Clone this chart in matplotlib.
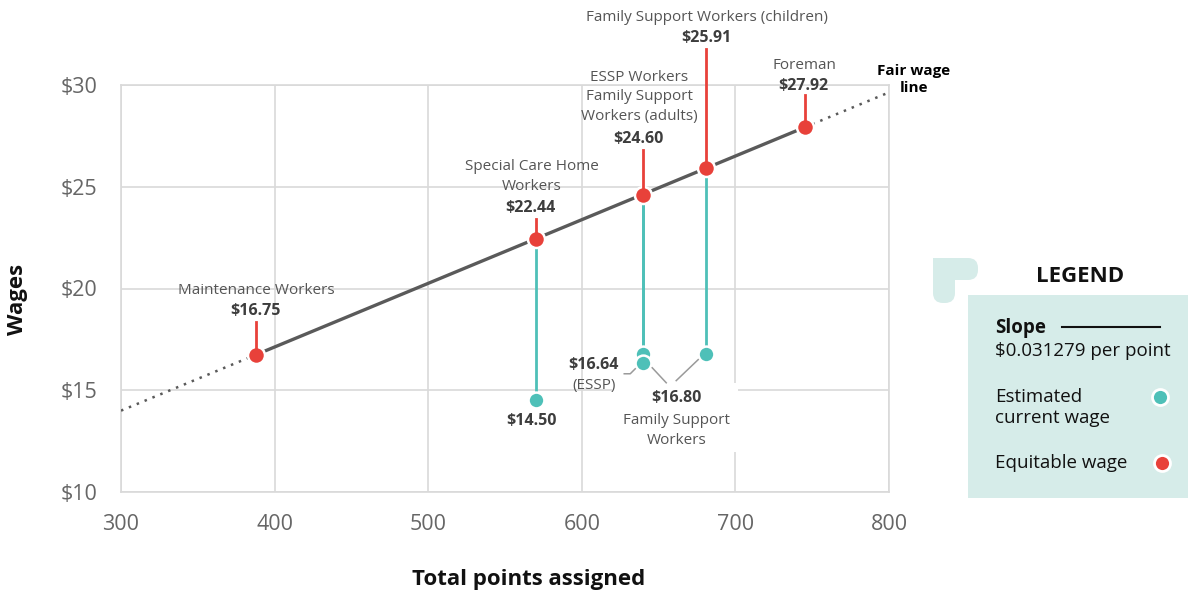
import matplotlib
matplotlib.use('Agg')
import matplotlib.pyplot as plt
from matplotlib.lines import Line2D
from matplotlib.patches import FancyBboxPatch, Rectangle
from matplotlib.transforms import Affine2D

plt.rcParams['font.family'] = ['Open Sans', 'DejaVu Sans']

# --- data ---
eq_points = [388, 570, 640, 681, 745]
eq_wages = [16.75, 22.44, 24.60, 25.91, 27.92]
eq_values = ['$16.75', '$22.44', '$24.60', '$25.91', '$27.92']
eq_names = ['Maintenance Workers', 'Special Care Home\nWorkers',
            'ESSP Workers\nFamily Support\nWorkers (adults)',
            'Family Support Workers (children)', 'Foreman']

cur_points = [570, 640, 640, 681]
cur_wages = [14.50, 16.80, 16.35, 16.80]

slope = 0.031279
x_range = [300, 800]
y_ticks = [10, 15, 20, 25, 30]
x_ticks = [300, 400, 500, 600, 700, 800]

RED = '#e8413a'
TEAL = '#4ec0b8'
LINE = '#5a5a5a'
GRID = '#d9d9d9'
NAME_C = '#555555'
VAL_C = '#3d3d3d'
LEG_BG = '#d6ece9'
FS = 11

W, H = 1188, 598
fig = plt.figure(figsize=(W / 100, H / 100), dpi=100)
ax = fig.add_axes([121 / W, 1 - 492 / H, (889 - 121) / W, (492 - 85) / H])
ax.set_xlim(*x_range)
ax.set_ylim(10, 30)
ax.set_xticks(x_ticks)
ax.set_yticks(y_ticks)
ax.set_yticklabels([f'${v}' for v in y_ticks])
ax.tick_params(length=0, labelsize=15.5, labelcolor='#666666')
ax.tick_params(axis='x', pad=16)
ax.tick_params(axis='y', pad=17)
ax.grid(True, color=GRID, linewidth=1.2)
for s in ax.spines.values():
    s.set_color(GRID)
    s.set_linewidth(1.2)

# fair wage line: solid between the first and last job, dotted outside
intercept = eq_wages[0] - slope * eq_points[0]
def fw(x):
    return intercept + slope * x

x0, x1 = eq_points[0], eq_points[-1]
ax.plot([x0, x1], [fw(x0), fw(x1)], color=LINE, lw=2.4, zorder=3, solid_capstyle='butt')
ax.plot([x_range[0], x0], [fw(x_range[0]), fw(x0)], color=LINE, lw=1.8, ls=(0, (1, 2.4)), zorder=3)
ax.plot([x1, x_range[1]], [fw(x1), fw(x_range[1])], color=LINE, lw=1.8, ls=(0, (1, 2.4)), zorder=3)

# teal drop lines from equitable to current wage
for px, cw in zip(cur_points, cur_wages):
    ew = eq_wages[eq_points.index(px)]
    ax.plot([px, px], [ew, cw], color=TEAL, lw=2, zorder=3)


def px_line(x, y, offs, **kw):
    """polyline given in pixel offsets from a data point"""
    bx, by = ax.transData.transform((x, y))
    tr = Affine2D().translate(bx, by)
    xs = [o[0] for o in offs]
    ys = [o[1] for o in offs]
    fig.add_artist(Line2D(xs, ys, transform=tr, **kw))


# labels above equitable points: (dx, name dy, value dy, tick top dy)
label_layout = [(0, 64, 44, 33), (-4, 62.5, 31, 20), (-4, 98, 56, 45),
                (1, 151, 130, 119), (0, 62, 41, 32)]
for (px, w, val, name), (dx, dn, dv, dt) in zip(
        zip(eq_points, eq_wages, eq_values, eq_names), label_layout):
    ax.annotate(name, (px, w), xytext=(dx, dn), textcoords='offset pixels',
                ha='center', va='center', fontsize=FS, color=NAME_C,
                linespacing=1.4, zorder=5)
    ax.annotate(val, (px, w), xytext=(dx - 1, dv), textcoords='offset pixels',
                ha='center', va='center', fontsize=FS + 0.5, color=VAL_C,
                fontweight='bold', zorder=5)
    px_line(px, w, [(0, dt), (0, 6)], color=RED, lw=2, zorder=4)

# white box behind the Family Support Workers note
ax.add_patch(Rectangle((612, H - 452), 126, 69, transform=None, fc='white',
                       ec='none', zorder=4, clip_on=False))

# current wage markers
ax.scatter(cur_points, cur_wages, s=130, color=TEAL, edgecolors='white',
           linewidths=1.8, zorder=6)
ax.scatter(eq_points, eq_wages, s=150, color=RED, edgecolors='white',
           linewidths=1.8, zorder=7)

# current wage labels
ax.annotate('$14.50', (cur_points[0], cur_wages[0]), xytext=(-4, -21),
            textcoords='offset pixels', ha='center', va='center',
            fontsize=FS + 0.5, color=VAL_C, fontweight='bold', zorder=5)
ax.annotate('$16.64', (cur_points[2], cur_wages[2]), xytext=(-50, -2),
            textcoords='offset pixels', ha='center', va='center',
            fontsize=FS + 0.5, color=VAL_C, fontweight='bold', zorder=5)
ax.annotate('(ESSP)', (cur_points[2], cur_wages[2]), xytext=(-49, -23),
            textcoords='offset pixels', ha='center', va='center',
            fontsize=FS, color=NAME_C, zorder=5)
px_line(cur_points[2], cur_wages[2], [(-19, -11), (-13, -11), (-8, -6)],
        color='#9a9a9a', lw=1.1, zorder=5)

ax.annotate('$16.80', (cur_points[3], cur_wages[3]), xytext=(-30, -44),
            textcoords='offset pixels', ha='center', va='center',
            fontsize=FS + 0.5, color=VAL_C, fontweight='bold', zorder=5)
ax.annotate('Family Support\nWorkers', (cur_points[3], cur_wages[3]),
            xytext=(-30, -77), textcoords='offset pixels', ha='center',
            va='center', fontsize=FS, color=NAME_C, linespacing=1.45,
            zorder=5)
px_line(cur_points[2], cur_wages[2], [(23, -20), (9, -5)],
        color='#9a9a9a', lw=1.1, zorder=5)
px_line(cur_points[3], cur_wages[3], [(-30, -27), (-8, -6)],
        color='#9a9a9a', lw=1.1, zorder=5)

ax.annotate('Fair wage\nline', (x_range[1], fw(x_range[1])), xytext=(25, 13),
            textcoords='offset pixels', ha='center', va='center',
            fontsize=FS, fontweight='bold', color='black',
            annotation_clip=False, linespacing=1.3)

# axis titles
fig.text(529 / W, 1 - 580 / H, 'Total points assigned', ha='center', va='center',
         fontsize=16, fontweight='bold', color='#111111')
fig.text(18 / W, 1 - 299 / H, 'Wages', ha='center', va='center', rotation=90,
         fontsize=16, fontweight='bold', color='#111111')

# legend panel
fig.add_artist(Rectangle((968 / W, 1 - 498 / H), 220 / W, 203 / H,
                         transform=fig.transFigure, fc=LEG_BG, ec='none'))
fig.add_artist(FancyBboxPatch((933, H - 280), 45, 22, boxstyle='round,pad=0,rounding_size=10',
                              transform=None, fc=LEG_BG, ec='none'))
fig.add_artist(FancyBboxPatch((933, H - 303), 22, 45, boxstyle='round,pad=0,rounding_size=10',
                              transform=None, fc=LEG_BG, ec='none'))
fig.add_artist(Rectangle((933, H - 280), 22, 22, transform=None, fc=LEG_BG, ec='none'))

fig.text(1080 / W, 1 - 276 / H, 'LEGEND', ha='center', va='center',
         fontsize=16, fontweight='bold', color='#111111')
fig.text(995 / W, 1 - 328 / H, 'Slope', ha='left', va='center',
         fontsize=13.5, fontweight='bold', color='#111111')
fig.add_artist(Line2D([1062 / W, 1160 / W], [1 - 327 / H, 1 - 327 / H],
                      transform=fig.transFigure, color='#111111', lw=1.5))
fig.text(995 / W, 1 - 351 / H, '$0.031279 per point', ha='left', va='center',
         fontsize=13.5, color='#111111')
fig.text(995 / W, 1 - 407.5 / H, 'Estimated\ncurrent wage', ha='left', va='center',
         fontsize=13.5, color='#111111', linespacing=1.25)
fig.text(995 / W, 1 - 463 / H, 'Equitable wage', ha='left', va='center',
         fontsize=13.5, color='#111111')
fig.add_artist(Line2D([1160 / W], [1 - 397 / H], transform=fig.transFigure,
                      marker='o', ms=11.5, color=TEAL, mec='white', mew=2))
fig.add_artist(Line2D([1162 / W], [1 - 463 / H], transform=fig.transFigure,
                      marker='o', ms=11.5, color=RED, mec='white', mew=2))

fig.savefig('out.png', dpi=100, facecolor='white')
